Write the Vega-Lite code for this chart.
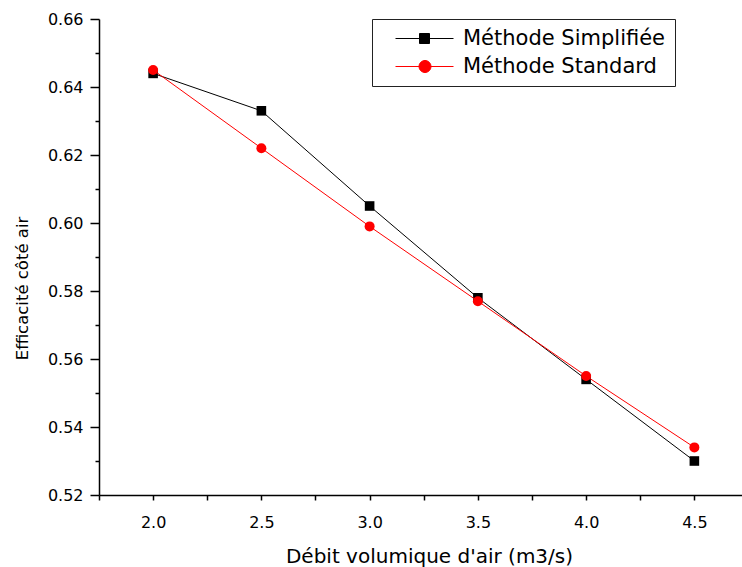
{
  "$schema": "https://vega.github.io/schema/vega-lite/v6.json",
  "width": 643,
  "height": 476,
  "autosize": {"type": "none"},
  "padding": {"left": 99, "top": 19, "right": 0, "bottom": 72},
  "background": "white",
  "config": {"view": {"stroke": null}, "font": "DejaVu Sans", "axis": {"grid": false}},
  "data": {
    "values": [
      {"debit": 2.0, "eff": 0.644, "serie": "Méthode Simplifiée"},
      {"debit": 2.5, "eff": 0.633, "serie": "Méthode Simplifiée"},
      {"debit": 3.0, "eff": 0.605, "serie": "Méthode Simplifiée"},
      {"debit": 3.5, "eff": 0.578, "serie": "Méthode Simplifiée"},
      {"debit": 4.0, "eff": 0.554, "serie": "Méthode Simplifiée"},
      {"debit": 4.5, "eff": 0.530, "serie": "Méthode Simplifiée"},
      {"debit": 2.0, "eff": 0.645, "serie": "Méthode Standard"},
      {"debit": 2.5, "eff": 0.622, "serie": "Méthode Standard"},
      {"debit": 3.0, "eff": 0.599, "serie": "Méthode Standard"},
      {"debit": 3.5, "eff": 0.577, "serie": "Méthode Standard"},
      {"debit": 4.0, "eff": 0.555, "serie": "Méthode Standard"},
      {"debit": 4.5, "eff": 0.534, "serie": "Méthode Standard"}
    ]
  },
  "encoding": {
    "x": {
      "field": "debit",
      "type": "quantitative",
      "scale": {"domain": [1.75, 4.72], "nice": false, "zero": false},
      "axis": {
        "values": [1.75, 2, 2.25, 2.5, 2.75, 3, 3.25, 3.5, 3.75, 4, 4.25, 4.5],
        "labelExpr": "(round(datum.value*100) % 50 == 0) ? format(datum.value, '.1f') : ''",
        "tickSize": 5,
        "tickWidth": 1.5,
        "tickColor": "black",
        "domainWidth": 1.5,
        "domainColor": "black",
        "labelFont": "DejaVu Sans",
        "labelFontSize": 16,
        "labelColor": "black",
        "labelBaseline": "alphabetic",
        "labelPadding": 27,
        "labelFlush": false,
        "labelOverlap": false,
        "title": "Débit volumique d'air (m3/s)",
        "titleFont": "DejaVu Sans",
        "titleFontSize": 20,
        "titleFontWeight": "normal",
        "titleColor": "black",
        "titleX": 330,
        "titleY": 67,
        "titleAlign": "center",
        "titleBaseline": "alphabetic"
      }
    },
    "y": {
      "field": "eff",
      "type": "quantitative",
      "scale": {"domain": [0.52, 0.66], "nice": false, "zero": false},
      "axis": {
        "values": [0.52, 0.53, 0.54, 0.55, 0.56, 0.57, 0.58, 0.59, 0.6, 0.61, 0.62, 0.63, 0.64, 0.65, 0.66],
        "labelExpr": "(round(datum.value*100) % 2 == 0) ? format(datum.value, '.2f') : ''",
        "tickSize": {"condition": {"test": "round(datum.value*100) % 2 == 0", "value": 9}, "value": 4},
        "tickWidth": 1.5,
        "tickColor": "black",
        "domainWidth": 1.5,
        "domainColor": "black",
        "labelFont": "DejaVu Sans",
        "labelFontSize": 16,
        "labelColor": "black",
        "labelPadding": 7,
        "labelOverlap": false,
        "title": "Efficacité côté air",
        "titleFont": "DejaVu Sans",
        "titleFontSize": 16.5,
        "titleFontWeight": "normal",
        "titleColor": "black",
        "titleX": -72,
        "titleY": 269,
        "titleAlign": "center",
        "titleBaseline": "alphabetic"
      }
    },
    "color": {
      "field": "serie",
      "type": "nominal",
      "scale": {"domain": ["Méthode Simplifiée", "Méthode Standard"], "range": ["#000000", "#ff0000"]},
      "legend": {
        "orient": "none",
        "legendX": 273,
        "legendY": 0,
        "title": null,
        "padding": 9,
        "strokeColor": "#222222",
        "fillColor": "white",
        "labelFont": "DejaVu Sans",
        "labelFontSize": 21,
        "labelColor": "black",
        "labelLimit": 0,
        "labelOffset": 61,
        "rowPadding": 6,
        "symbolSize": 400,
        "symbolOpacity": 1,
        "encode": {
          "symbols": {
            "update": {
              "shape": {"signal": "datum.value == 'Méthode Simplifiée' ? 'M0.4,0L6.2,0M2.8,-0.5L3.8,-0.5L3.8,0.5L2.8,0.5Z' : 'M0.4,0L6.2,0M3.95,0A0.6,0.6,0,1,1,2.75,0A0.6,0.6,0,1,1,3.95,0Z'"},
              "size": {"value": 400},
              "strokeWidth": {"value": 1},
              "stroke": {"signal": "datum.value == 'Méthode Simplifiée' ? '#000000' : '#ff0000'"},
              "fill": {"signal": "datum.value == 'Méthode Simplifiée' ? '#000000' : '#ff0000'"},
              "opacity": {"value": 1}
            }
          }
        }
      }
    }
  },
  "layer": [
    {
      "transform": [{"filter": "datum.serie == 'Méthode Simplifiée'"}],
      "mark": {"type": "line", "strokeWidth": 1}
    },
    {
      "transform": [{"filter": "datum.serie == 'Méthode Simplifiée'"}],
      "mark": {"type": "point", "filled": true, "opacity": 1, "shape": "square", "size": 92}
    },
    {
      "transform": [{"filter": "datum.serie == 'Méthode Standard'"}],
      "mark": {"type": "line", "strokeWidth": 1}
    },
    {
      "transform": [{"filter": "datum.serie == 'Méthode Standard'"}],
      "mark": {"type": "point", "filled": true, "opacity": 1, "shape": "circle", "size": 100}
    }
  ]
}
